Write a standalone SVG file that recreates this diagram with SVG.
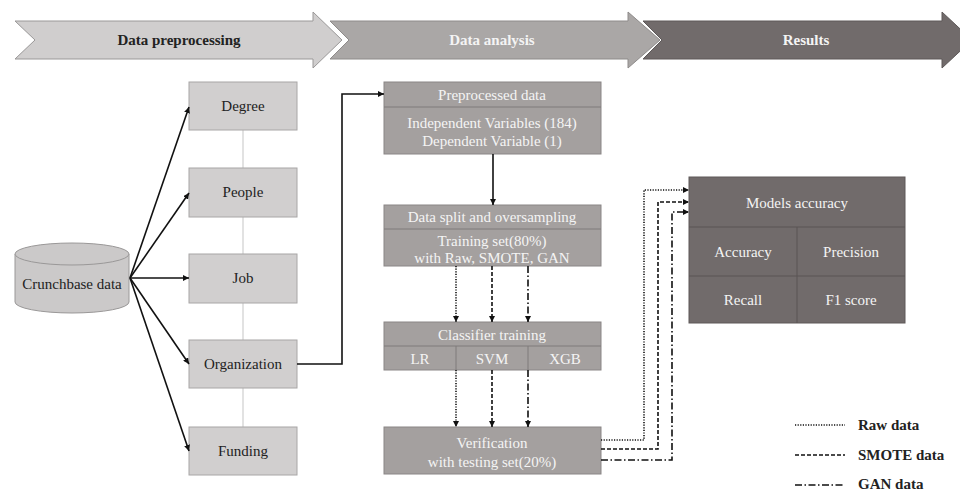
<svg xmlns="http://www.w3.org/2000/svg" width="960" height="493" viewBox="0 0 960 493">
<defs>
<marker id="ah" viewBox="0 0 10 10" refX="10" refY="5" markerWidth="6" markerHeight="6" markerUnits="userSpaceOnUse" orient="auto">
<path d="M0,0 L10,5 L0,10 z" fill="#111"/>
</marker>
<style>
text{font-family:"Liberation Serif","Times New Roman",serif;font-size:15px;text-anchor:middle}
.bt{font-weight:bold}
.dk{fill:#222}
.wt{fill:#f4f4f4}
.lbox{fill:#d1cfcf;stroke:#a8a6a6;stroke-width:1}
.mbox{fill:#a4a09f;stroke:#8a8686;stroke-width:1}
.rbox{fill:#716b6b;stroke:#5e5959;stroke-width:1}
.div{stroke:#7e7a7a;stroke-width:1;fill:none}
.rdiv{stroke:#5a5555;stroke-width:1;fill:none}
.ln{fill:none;stroke:#111;stroke-width:1.6}
.dot{fill:none;stroke:#111;stroke-width:1.6;stroke-dasharray:1.2 1.4}
.dsh{fill:none;stroke:#111;stroke-width:1.6;stroke-dasharray:4 2}
.dd{fill:none;stroke:#111;stroke-width:1.6;stroke-dasharray:7 2.5 1.5 2.5}
</style>
</defs>
<rect width="960" height="493" fill="#ffffff"/>

<g id="banner">
<polygon points="15,21 313,21 313,12 342,40 313,68 313,59 15,59 35,40" fill="#d0cece" stroke="#9a9898" stroke-width="1"/>
<polygon points="330,21 628,21 628,12 660,40 628,68 628,59 330,59 349,40" fill="#aaa7a6" stroke="#8e8b8a" stroke-width="1"/>
<polygon points="643,21 942,21 942,12 972,40 942,68 942,59 643,59 662,40" fill="#716b6b" stroke="#5e5959" stroke-width="1"/>
<text x="179" y="45" class="bt dk">Data preprocessing</text>
<text x="492" y="45" class="bt wt">Data analysis</text>
<text x="806" y="45" class="bt wt">Results</text>
</g>

<g id="spine">
<line x1="243" y1="130" x2="243" y2="427" stroke="#cfcfcf" stroke-width="1.2"/>
</g>

<g id="crunchbase">
<path d="M15,254 L15,302 A57,11 0 0 0 129,302 L129,254" fill="#cbc9c9" stroke="#9a9898" stroke-width="1"/>
<ellipse cx="72" cy="254" rx="57" ry="11" fill="#cbc9c9" stroke="#9a9898" stroke-width="1"/>
<text x="72" y="289" class="dk">Crunchbase data</text>
</g>

<g id="degree"><rect x="189" y="82" width="108" height="48" class="lbox"/><text x="243" y="111" class="dk">Degree</text></g>
<g id="people"><rect x="189" y="168" width="108" height="49" class="lbox"/><text x="243" y="197" class="dk">People</text></g>
<g id="job"><rect x="189" y="254" width="108" height="49" class="lbox"/><text x="243" y="283" class="dk">Job</text></g>
<g id="organization"><rect x="189" y="340" width="108" height="48" class="lbox"/><text x="243" y="369" class="dk">Organization</text></g>
<g id="funding"><rect x="189" y="427" width="108" height="48" class="lbox"/><text x="243" y="456" class="dk">Funding</text></g>

<g id="preprocessed">
<rect x="384" y="82" width="217" height="72" class="mbox"/>
<line x1="384" y1="107" x2="601" y2="107" class="div"/>
<text x="492" y="100" class="wt">Preprocessed data</text>
<text x="492" y="128" class="wt">Independent Variables (184)</text>
<text x="492" y="146" class="wt">Dependent Variable (1)</text>
</g>

<g id="split">
<rect x="384" y="205" width="217" height="61" class="mbox"/>
<line x1="384" y1="229" x2="601" y2="229" class="div"/>
<text x="492" y="222" class="wt">Data split and oversampling</text>
<text x="492" y="246" class="wt">Training set(80%)</text>
<text x="492" y="263" class="wt">with Raw, SMOTE, GAN</text>
</g>

<g id="classifier">
<rect x="384" y="322" width="217" height="48" class="mbox"/>
<line x1="384" y1="346" x2="601" y2="346" class="div"/>
<line x1="456" y1="346" x2="456" y2="370" class="div"/>
<line x1="528" y1="346" x2="528" y2="370" class="div"/>
<text x="492" y="340" class="wt">Classifier training</text>
<text x="420" y="364" class="wt">LR</text>
<text x="492" y="364" class="wt">SVM</text>
<text x="565" y="364" class="wt">XGB</text>
</g>

<g id="verification">
<rect x="384" y="427" width="217" height="47" class="mbox"/>
<text x="492" y="448" class="wt">Verification</text>
<text x="492" y="467" class="wt">with testing set(20%)</text>
</g>

<g id="results">
<rect x="689" y="177" width="216" height="146" class="rbox"/>
<line x1="689" y1="227" x2="905" y2="227" class="rdiv"/>
<line x1="689" y1="276" x2="905" y2="276" class="rdiv"/>
<line x1="797" y1="227" x2="797" y2="323" class="rdiv"/>
<text x="797" y="208" class="wt">Models accuracy</text>
<text x="743" y="257" class="wt">Accuracy</text>
<text x="851" y="257" class="wt">Precision</text>
<text x="743" y="305" class="wt">Recall</text>
<text x="851" y="305" class="wt">F1 score</text>
</g>

<g id="connectors">
<line x1="130" y1="278" x2="189" y2="107" class="ln" marker-end="url(#ah)"/>
<line x1="130" y1="278" x2="189" y2="193" class="ln" marker-end="url(#ah)"/>
<line x1="130" y1="278" x2="189" y2="278" class="ln" marker-end="url(#ah)"/>
<line x1="130" y1="278" x2="189" y2="364" class="ln" marker-end="url(#ah)"/>
<line x1="130" y1="278" x2="189" y2="451" class="ln" marker-end="url(#ah)"/>
<polyline points="297,364 342,364 342,94 384,94" class="ln" marker-end="url(#ah)"/>
<line x1="493" y1="154" x2="493" y2="205" class="ln" marker-end="url(#ah)"/>
<line x1="456" y1="266" x2="456" y2="322" class="dot" marker-end="url(#ah)"/>
<line x1="492" y1="266" x2="492" y2="322" class="dsh" marker-end="url(#ah)"/>
<line x1="528" y1="266" x2="528" y2="322" class="dd" marker-end="url(#ah)"/>
<line x1="456" y1="370" x2="456" y2="427" class="dot" marker-end="url(#ah)"/>
<line x1="492" y1="370" x2="492" y2="427" class="dsh" marker-end="url(#ah)"/>
<line x1="528" y1="370" x2="528" y2="427" class="dd" marker-end="url(#ah)"/>
<polyline points="601,440 644,440 644,190 689,190" class="dot" marker-end="url(#ah)"/>
<polyline points="601,449 658,449 658,202 689,202" class="dsh" marker-end="url(#ah)"/>
<polyline points="601,460 672,460 672,212 689,212" class="dd" marker-end="url(#ah)"/>
</g>

<g id="legend">
<line x1="795" y1="425" x2="845" y2="425" class="dot"/>
<line x1="795" y1="455" x2="845" y2="455" class="dsh"/>
<line x1="795" y1="485" x2="845" y2="485" class="dd"/>
<text x="858" y="430" class="bt dk" style="text-anchor:start">Raw data</text>
<text x="858" y="460" class="bt dk" style="text-anchor:start">SMOTE data</text>
<text x="858" y="489" class="bt dk" style="text-anchor:start">GAN data</text>
</g>
</svg>
